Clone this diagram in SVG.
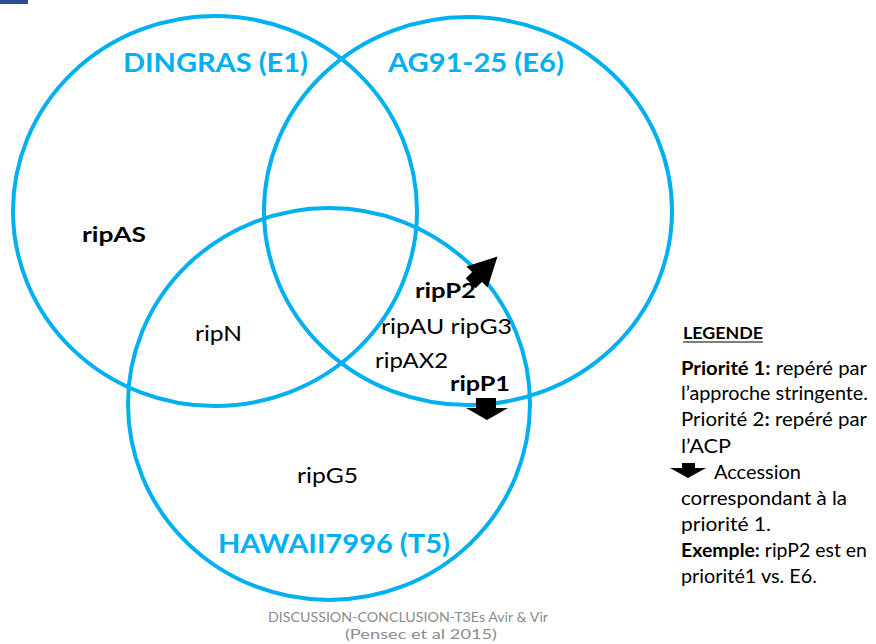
<svg xmlns="http://www.w3.org/2000/svg" width="876" height="644" viewBox="0 0 876 644">
<style>
.set{fill:none;stroke:#00B0F0;stroke-width:4}
.setlbl{font-family:Lato,"Liberation Sans",sans-serif;font-weight:bold;font-size:27px;fill:#00B0F0}
.item{font-family:Lato,"Liberation Sans",sans-serif;font-size:21px;fill:#000}
.b{font-weight:bold}
.leg{font-family:Lato,"Liberation Sans",sans-serif;font-size:18.5px;fill:#000}
.foot{font-family:Lato,"Liberation Sans",sans-serif;font-size:14px;fill:#8C8C8C;text-anchor:middle}
.arrow{fill:#000}
</style>
<rect width="876" height="644" fill="#fff"/>
<rect x="0" y="0" width="28" height="4" fill="#2E4F8F"/>
<g id="set-dingras">
<ellipse class="set" cx="215" cy="211" rx="202" ry="195"/>
<text class="setlbl" x="123" y="72" textLength="185" lengthAdjust="spacingAndGlyphs">DINGRAS (E1)</text>
</g>
<g id="set-ag91">
<ellipse class="set" cx="468" cy="211" rx="204" ry="194"/>
<text class="setlbl" x="388" y="72" textLength="176" lengthAdjust="spacingAndGlyphs">AG91-25 (E6)</text>
</g>
<g id="set-hawaii">
<ellipse class="set" cx="329" cy="404" rx="201" ry="196"/>
<text class="setlbl" x="218" y="553" textLength="232" lengthAdjust="spacingAndGlyphs">HAWAII7996 (T5)</text>
</g>
<g id="items">
<text class="item b" x="82" y="242" textLength="64" lengthAdjust="spacingAndGlyphs">ripAS</text>
<text class="item" x="195" y="341" textLength="47" lengthAdjust="spacingAndGlyphs">ripN</text>
<text class="item b" x="415" y="298" textLength="61" lengthAdjust="spacingAndGlyphs">ripP2</text>
<text class="item" x="381" y="334" textLength="131" lengthAdjust="spacingAndGlyphs">ripAU ripG3</text>
<text class="item" x="375" y="368" textLength="73" lengthAdjust="spacingAndGlyphs">ripAX2</text>
<text class="item b" x="450" y="391" textLength="60" lengthAdjust="spacingAndGlyphs">ripP1</text>
<text class="item" x="297" y="483" textLength="61" lengthAdjust="spacingAndGlyphs">ripG5</text>
</g>
<g id="arrows">
<path class="arrow" transform="translate(477,277) rotate(-45)" d="M-9,-7 L0,-7 L0,-15 L29,0 L0,15 L0,7 L-9,7 Z"/>
<path class="arrow" d="M476,398 L496,398 L496,408 L508,408 L487,420 L466,408 L476,408 Z"/>
</g>
<g id="legend">
<text class="leg b" x="683" y="339" textLength="80" lengthAdjust="spacingAndGlyphs" style="font-size:17px">LEGENDE</text>
<line x1="683" y1="342" x2="763" y2="342" stroke="#000" stroke-width="1.2"/>
<text class="leg" x="681" y="375" textLength="186" lengthAdjust="spacingAndGlyphs"><tspan class="b">Priorité 1:</tspan> repéré par</text>
<text class="leg" x="681" y="400" textLength="187" lengthAdjust="spacingAndGlyphs">l’approche stringente.</text>
<text class="leg" x="681" y="426" textLength="186" lengthAdjust="spacingAndGlyphs">Priorité 2<tspan class="b">:</tspan> repéré par</text>
<text class="leg" x="681" y="453" textLength="50" lengthAdjust="spacingAndGlyphs">l’ACP</text>
<path class="arrow" d="M682,463 L695,463 L695,468 L706,468 L688,478 L670,468 L682,468 Z"/>
<text class="leg" x="714" y="479" textLength="87" lengthAdjust="spacingAndGlyphs">Accession</text>
<text class="leg" x="681" y="505" textLength="166" lengthAdjust="spacingAndGlyphs">correspondant à la</text>
<text class="leg" x="681" y="531" textLength="90" lengthAdjust="spacingAndGlyphs">priorité 1.</text>
<text class="leg" x="681" y="557" textLength="186" lengthAdjust="spacingAndGlyphs"><tspan class="b">Exemple:</tspan> ripP2 est en</text>
<text class="leg" x="681" y="583" textLength="136" lengthAdjust="spacingAndGlyphs">priorité1 vs. E6.</text>
</g>
<g id="footer">
<text class="foot" x="408" y="622" textLength="280" lengthAdjust="spacingAndGlyphs">DISCUSSION-CONCLUSION-T3Es Avir &amp; Vir</text>
<text class="foot" x="421" y="639" textLength="152" lengthAdjust="spacingAndGlyphs">(Pensec et al 2015)</text>
</g>
</svg>
